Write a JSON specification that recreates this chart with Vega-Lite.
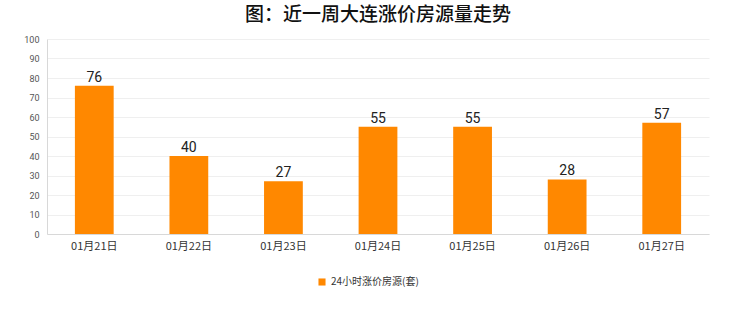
{
  "$schema": "https://vega.github.io/schema/vega-lite/v6.json",
  "width": 662,
  "height": 195,
  "autosize": {"type": "none"},
  "padding": {"left": 47, "top": 39, "right": 31, "bottom": 78},
  "background": "#ffffff",
  "title": {
    "text": "图：近一周大连涨价房源量走势",
    "font": "Noto Sans CJK SC",
    "fontSize": 19,
    "fontWeight": 500,
    "color": "#111111",
    "anchor": "middle",
    "offset": 10
  },
  "config": {"view": {"stroke": null}},
  "data": {
    "values": [
      {"date": "01月21日", "value": 76, "series": "24小时涨价房源(套)"},
      {"date": "01月22日", "value": 40, "series": "24小时涨价房源(套)"},
      {"date": "01月23日", "value": 27, "series": "24小时涨价房源(套)"},
      {"date": "01月24日", "value": 55, "series": "24小时涨价房源(套)"},
      {"date": "01月25日", "value": 55, "series": "24小时涨价房源(套)"},
      {"date": "01月26日", "value": 28, "series": "24小时涨价房源(套)"},
      {"date": "01月27日", "value": 57, "series": "24小时涨价房源(套)"}
    ]
  },
  "encoding": {
    "x": {
      "field": "date",
      "type": "nominal",
      "sort": null,
      "scale": {"paddingInner": 0.59, "paddingOuter": 0.295},
      "axis": {
        "title": null,
        "labelAngle": 0,
        "labelFont": "Noto Sans CJK SC",
        "labelFontSize": 11,
        "labelColor": "#333333",
        "domainColor": "#d8d8d8",
        "ticks": false,
        "labelPadding": 6
      }
    },
    "y": {
      "field": "value",
      "type": "quantitative",
      "scale": {"domain": [0, 100]},
      "axis": {
        "title": null,
        "values": [0,10,20,30,40,50,60,70,80,90,100],
        "labelOverlap": false,
        "labelFont": "Roboto",
        "labelFontSize": 9,
        "labelColor": "#555555",
        "gridColor": "#efefef",
        "domainColor": "#d8d8d8",
        "ticks": false,
        "labelPadding": 8
      }
    }
  },
  "layer": [
    {
      "mark": {"type": "bar", "color": "#ff8800"},
      "encoding": {
        "color": {
          "field": "series",
          "type": "nominal",
          "scale": {"range": ["#ff8800"]},
          "legend": {
            "title": null,
            "orient": "none",
            "legendX": 270,
            "legendY": 238,
            "symbolType": "square",
            "symbolSize": 50,
            "labelFont": "Noto Sans CJK SC",
            "labelFontSize": 10,
            "labelColor": "#333333"
          }
        }
      }
    },
    {
      "mark": {"type": "text", "dy": -8, "font": "Roboto", "fontSize": 14, "color": "#222222"},
      "encoding": {"text": {"field": "value", "type": "quantitative"}}
    }
  ]
}
